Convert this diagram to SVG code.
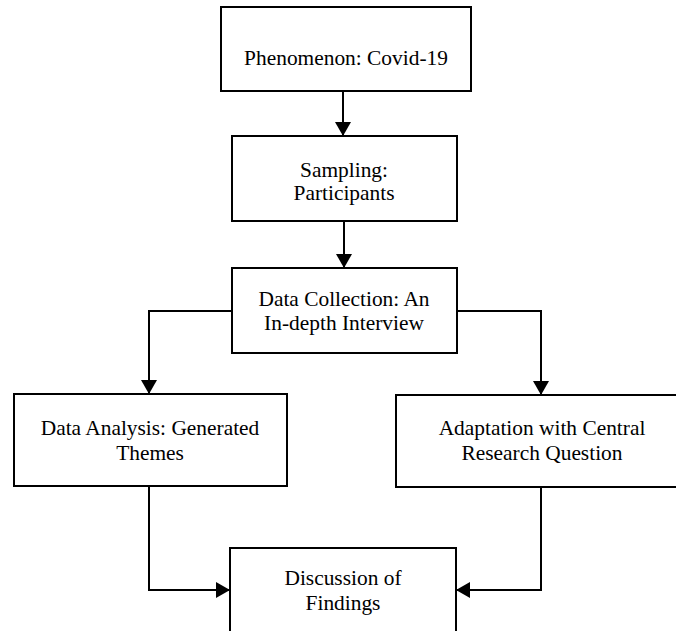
<svg xmlns="http://www.w3.org/2000/svg" width="676" height="631" viewBox="0 0 676 631">
<style>
.box{fill:#fff;stroke:#000;stroke-width:2}
.t{font-family:"Liberation Serif","Times New Roman",serif;font-size:21.4px;fill:#000;text-anchor:middle}
.c{fill:none;stroke:#000;stroke-width:2}
</style>
<defs>
<marker id="ah" viewBox="0 0 14 16" refX="14" refY="8" markerWidth="14" markerHeight="16" markerUnits="userSpaceOnUse" orient="auto">
<path d="M0,0 L14,8 L0,16 Z" fill="#000"/>
</marker>
</defs>
<rect width="676" height="631" fill="#fff"/>
<g id="connectors">
<path class="c" d="M343,91 V136" marker-end="url(#ah)"/>
<path class="c" d="M344,221 V268" marker-end="url(#ah)"/>
<path class="c" d="M232,311 H149 V394" marker-end="url(#ah)"/>
<path class="c" d="M457,311 H541 V395" marker-end="url(#ah)"/>
<path class="c" d="M149,486 V590 H230" marker-end="url(#ah)"/>
<path class="c" d="M541,487 V590 H456" marker-end="url(#ah)"/>
</g>
<g id="n1">
<rect class="box" x="221" y="7" width="250" height="84"/>
<text class="t" x="346" y="65">Phenomenon: Covid-19</text>
</g>
<g id="n2">
<rect class="box" x="232" y="136" width="225" height="85"/>
<text class="t" x="344" y="177">Sampling:</text>
<text class="t" x="344" y="200">Participants</text>
</g>
<g id="n3">
<rect class="box" x="232" y="268" width="225" height="85"/>
<text class="t" x="344" y="306">Data Collection: An</text>
<text class="t" x="344" y="330">In-depth Interview</text>
</g>
<g id="n4">
<rect class="box" x="14" y="394" width="273" height="92"/>
<text class="t" x="150" y="435">Data Analysis: Generated</text>
<text class="t" x="150" y="460">Themes</text>
</g>
<g id="n5">
<rect class="box" x="396" y="395" width="294" height="92"/>
<text class="t" x="542" y="435">Adaptation with Central</text>
<text class="t" x="542" y="460">Research Question</text>
</g>
<g id="n6">
<rect class="box" x="230" y="548" width="226" height="100"/>
<text class="t" x="343" y="585">Discussion of</text>
<text class="t" x="343" y="610">Findings</text>
</g>
</svg>
